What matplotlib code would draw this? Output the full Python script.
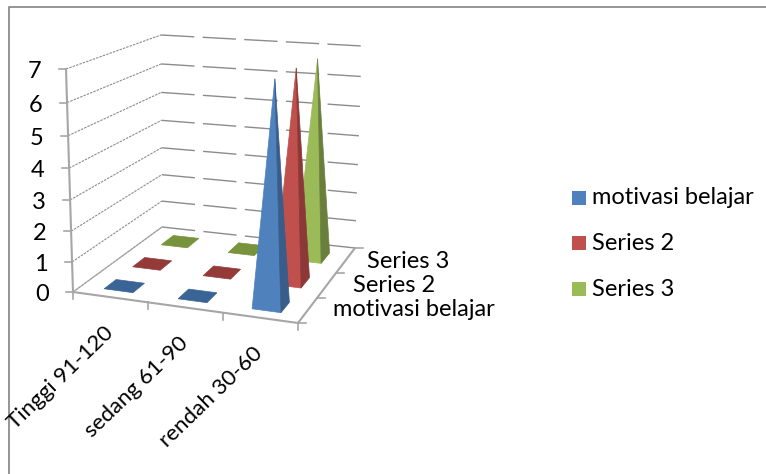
import numpy as np
import matplotlib
matplotlib.use("Agg")
import matplotlib.pyplot as plt
from matplotlib.patches import Polygon, Rectangle

categories = ["Tinggi 91-120", "sedang 61-90", "rendah 30-60"]
series_names = ["motivasi belajar", "Series 2", "Series 3"]
motivasi_belajar = [0, 0, 6.75]
series_2 = [0, 0, 6.75]
series_3 = [0, 0, 6.7]
value_ticks = [0, 1, 2, 3, 4, 5, 6, 7]
all_series = [motivasi_belajar, series_2, series_3]

front_colors = ["#4F81BD", "#C0504D", "#9BBB59"]
side_colors = ["#385D8A", "#8C3836", "#6A7F3C"]
flat_colors = ["#3A6496", "#943A38", "#77933C"]
GRID = "#8C8C8C"
AXIS = "#A6A6A6"
FONT = "Lato"
VMAX = value_ticks[-1]

# Corners of the 3D box in the picture: (category end, series end, level)
C000 = np.array([73.0, 292.0])   # front-left floor
C100 = np.array([298.0, 323.0])  # front-right floor
C010 = np.array([162.0, 227.0])  # back-left floor
C110 = np.array([355.0, 248.0])  # back-right floor
C001 = np.array([66.0, 69.0])    # front-left top
C101 = np.array([304.0, 76.0])   # front-right top
C011 = np.array([161.0, 35.0])   # back-left top
C111 = np.array([362.0, 46.0])   # back-right top
WARP = -0.065                    # slight perspective along the value axis


def project(c, s, v):
    """Map normalised category, series, value positions to the picture."""
    v = v + WARP * v * (1 - v)
    front0 = C000 + (C100 - C000) * c
    back0 = C010 + (C110 - C010) * c
    front1 = C001 + (C101 - C001) * c
    back1 = C011 + (C111 - C011) * c
    low = front0 + (back0 - front0) * s
    high = front1 + (back1 - front1) * s
    return low + (high - low) * v


fig = plt.figure(figsize=(7.66, 4.74), dpi=100)
ax = fig.add_axes([0, 0, 1, 1])
ax.set_xlim(0, 766)
ax.set_ylim(474, 0)
ax.axis("off")

# Chart frame
ax.plot([8.5, 8.5, 766], [474, 6.5, 6.5], color="#8C8C8C", lw=1.3, zorder=1)

# Gridlines on the walls
for t in value_ticks:
    v = t / VMAX
    a, b, d = project(0, 0, v), project(0, 1, v), project(1, 1, v)
    ax.plot([a[0], b[0]], [a[1], b[1]], color=GRID, lw=0.8,
            ls=(0, (2.2, 1.0)), zorder=2)
    ax.plot([b[0], d[0]], [b[1], d[1]], color=GRID, lw=1.0,
            ls=(0, (24, 6)), zorder=2)

# Axes lines
ax.plot(*zip(project(0, 0, 0), project(0, 0, 1)), color=AXIS, lw=1.5, zorder=3)
ax.plot(*zip(project(0, 0, 0), project(1, 0, 0), project(1, 1, 0)),
        color=AXIS, lw=1.5, zorder=3)
ax.plot(*zip(project(0, 0, 0), project(0, 1, 0)), color=AXIS, lw=0.8, zorder=3)

# Value axis ticks and labels
for t in value_ticks:
    p = project(0, 0, t / VMAX)
    ax.plot([p[0] - 7, p[0]], [p[1], p[1]], color=AXIS, lw=1.2, zorder=3)
    ax.text(p[0] - 24.5, p[1] + 2.5, str(t), ha="right", va="center",
            fontsize=17, family=FONT, color="black", zorder=6)

# Category ticks and labels
n_cat = len(categories)
for i in range(n_cat + 1):
    p = project(i / n_cat, 0, 0)
    ax.plot([p[0], p[0]], [p[1], p[1] + 7], color=AXIS, lw=1.2, zorder=3)
for i, name in enumerate(categories):
    p = project((i + 1) / n_cat, 0, 0)
    ax.text(p[0] - 45, p[1] + 20, name, rotation=44, ha="right", va="top",
            rotation_mode="anchor", fontsize=16, family=FONT, color="black",
            zorder=6)

# Series ticks and labels
n_ser = len(series_names)
for j in range(n_ser + 1):
    p = project(1, j / n_ser, 0)
    ax.plot([p[0], p[0] + 8], [p[1], p[1]], color=AXIS, lw=1.2, zorder=3)
series_label_x = [333, 353, 367]
series_label_y = [310, 285, 262]
for name, x, y in zip(series_names, series_label_x, series_label_y):
    ax.text(x, y, name, ha="left", va="center", fontsize=17, family=FONT,
            color="black", zorder=6)

# Pyramids, back to front
dc, ds = 0.065, 0.07
for j in reversed(range(n_ser)):
    for i in range(n_cat):
        val = all_series[j][i]
        c = (i + 0.5) / n_cat
        s = (j + 0.5) / n_ser
        v = val / VMAX
        fl = project(c - dc, s - ds, 0)
        fr = project(c + dc, s - ds, 0)
        br = project(c + dc, s + ds, 0)
        bl = project(c - dc, s + ds, 0)
        z = 4 + (n_ser - j) * 0.1 + i * 0.01
        if val == 0:
            ax.add_patch(Polygon([fl, fr, br, bl], closed=True, fc=flat_colors[j],
                                 ec=flat_colors[j], lw=0.5, zorder=z))
        else:
            apex = project(c, s, v)
            ax.add_patch(Polygon([fl, fr, apex], closed=True, fc=front_colors[j],
                                 ec=front_colors[j], lw=0.5, zorder=z))
            ax.add_patch(Polygon([fr, br, apex], closed=True, fc=side_colors[j],
                                 ec=side_colors[j], lw=0.5, zorder=z))

# Legend
legend_y = [198, 243, 289]
for name, color, y in zip(series_names, front_colors, legend_y):
    ax.add_patch(Rectangle((572, y - 7), 14, 14, fc=color, ec="none", zorder=6))
    ax.text(592, y, name, ha="left", va="center", fontsize=17, family=FONT,
            color="black", zorder=6)

fig.savefig("out.png", dpi=100)
